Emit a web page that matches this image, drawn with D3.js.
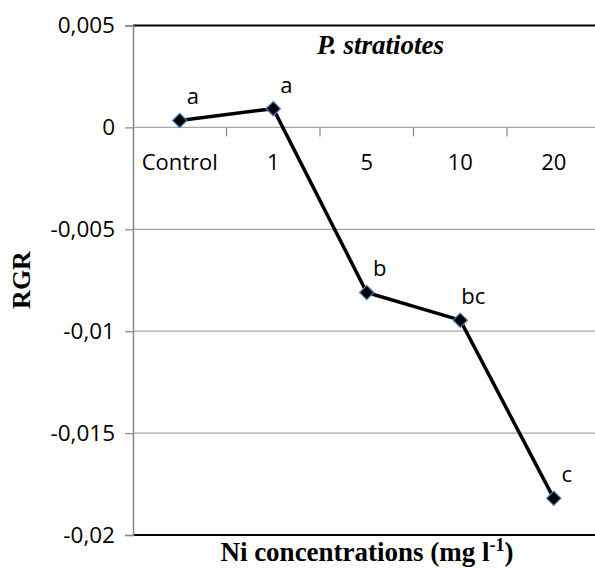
<!DOCTYPE html>
<html><head><meta charset="utf-8">
<script src="https://cdn.jsdelivr.net/npm/d3@7"></script>
<style>body{margin:0;background:#fff;}svg{display:block;}</style>
</head><body>
<svg id="c" width="595" height="568"></svg>
<script>
const categories = ["Control", "1", "5", "10", "20"];
const rgr = [0.00034, 0.00092, -0.0081, -0.00946, -0.0182];
const letters = ["a", "a", "b", "bc", "c"];
const yTicks = [0.005, 0, -0.005, -0.01, -0.015, -0.02];

const svg = d3.select("#c");
const L = 133, R = 600.5, T = 25.5, B = 535;
const x = d3.scaleBand().domain(categories).range([L, R]);
const y = d3.scaleLinear().domain([-0.02, 0.005]).range([B, T]);
const fmt = v => (v === 0 ? "0" : String(v).replace(".", ","));
const sans = "'Open Sans', sans-serif";
const serif = "'Liberation Serif', 'Times New Roman', serif";

// gridlines
svg.append("g").selectAll("line").data(yTicks.filter(v => v !== 0.005 && v !== -0.02)).join("line")
  .attr("x1", L).attr("x2", R).attr("y1", d => y(d)).attr("y2", d => y(d))
  .attr("stroke", "#a6a6a6").attr("stroke-width", 1.2);

// top and bottom borders
[0.005, -0.02].forEach(v => {
  svg.append("line").attr("x1", L).attr("x2", R).attr("y1", y(v)).attr("y2", y(v))
    .attr("stroke", "#000").attr("stroke-width", 2);
});

// y axis
const yAxis = d3.axisLeft(y).tickValues(yTicks).tickFormat(fmt).tickSize(8).tickPadding(10);
const gy = svg.append("g").attr("transform", `translate(${L},0)`).call(yAxis);
gy.select(".domain").attr("stroke", "#868686").attr("stroke-width", 1.5);
gy.selectAll(".tick line").attr("stroke", "#868686").attr("stroke-width", 1.2);
gy.selectAll("text").attr("font-family", sans).attr("font-size", 22.5).attr("fill", "#000");

// category axis at y=0
const xAxis = d3.axisBottom(x).tickSize(0).tickPadding(0);
const gx = svg.append("g").attr("transform", `translate(0,${y(0)})`).call(xAxis);
gx.select(".domain").remove();
gx.selectAll("text").attr("font-family", sans).attr("font-size", 22).attr("fill", "#000").attr("dy", 0).attr("y", 43);
// tick marks at band boundaries
svg.append("g").selectAll("line").data(categories.slice(1)).join("line")
  .attr("x1", d => x(d)).attr("x2", d => x(d)).attr("y1", y(0)).attr("y2", y(0) + 9)
  .attr("stroke", "#868686").attr("stroke-width", 1.2);

// line
const cx = (d, i) => x(categories[i]) + x.bandwidth() / 2;
svg.append("path").datum(rgr)
  .attr("d", d3.line().x((d, i) => cx(d, i)).y(d => y(d)))
  .attr("fill", "none").attr("stroke", "#000").attr("stroke-width", 3.5);

// markers
svg.append("g").selectAll("path").data(rgr).join("path")
  .attr("d", d3.symbol(d3.symbolDiamond2, 130))
  .attr("transform", (d, i) => `translate(${cx(d, i)},${y(d)})`)
  .attr("fill", "#000").attr("stroke", "#4a7ebb").attr("stroke-width", 1.2);

// letters
svg.append("g").selectAll("text").data(rgr).join("text")
  .attr("x", (d, i) => cx(d, i) + 13).attr("y", d => y(d) - 16)
  .attr("text-anchor", "middle").attr("font-family", sans).attr("font-size", 22).attr("fill", "#000")
  .text((d, i) => letters[i]);

// title
svg.append("text").attr("x", 317).attr("y", 54).attr("font-family", serif)
  .attr("font-size", 27).attr("font-weight", "bold").attr("font-style", "italic").text("P. stratiotes");

// axis titles
svg.append("text").attr("transform", "translate(30,280) rotate(-90)").attr("text-anchor", "middle")
  .attr("font-family", serif).attr("font-size", 26).attr("font-weight", "bold").text("RGR");
const xt = svg.append("text").attr("x", 367).attr("y", 561).attr("text-anchor", "middle")
  .attr("font-family", serif).attr("font-size", 27).attr("font-weight", "bold");
xt.append("tspan").text("Ni concentrations (mg l");
xt.append("tspan").attr("dy", -10).attr("font-size", 18).text("-1");
xt.append("tspan").attr("dy", 10).text(")");
</script>
</body></html>
